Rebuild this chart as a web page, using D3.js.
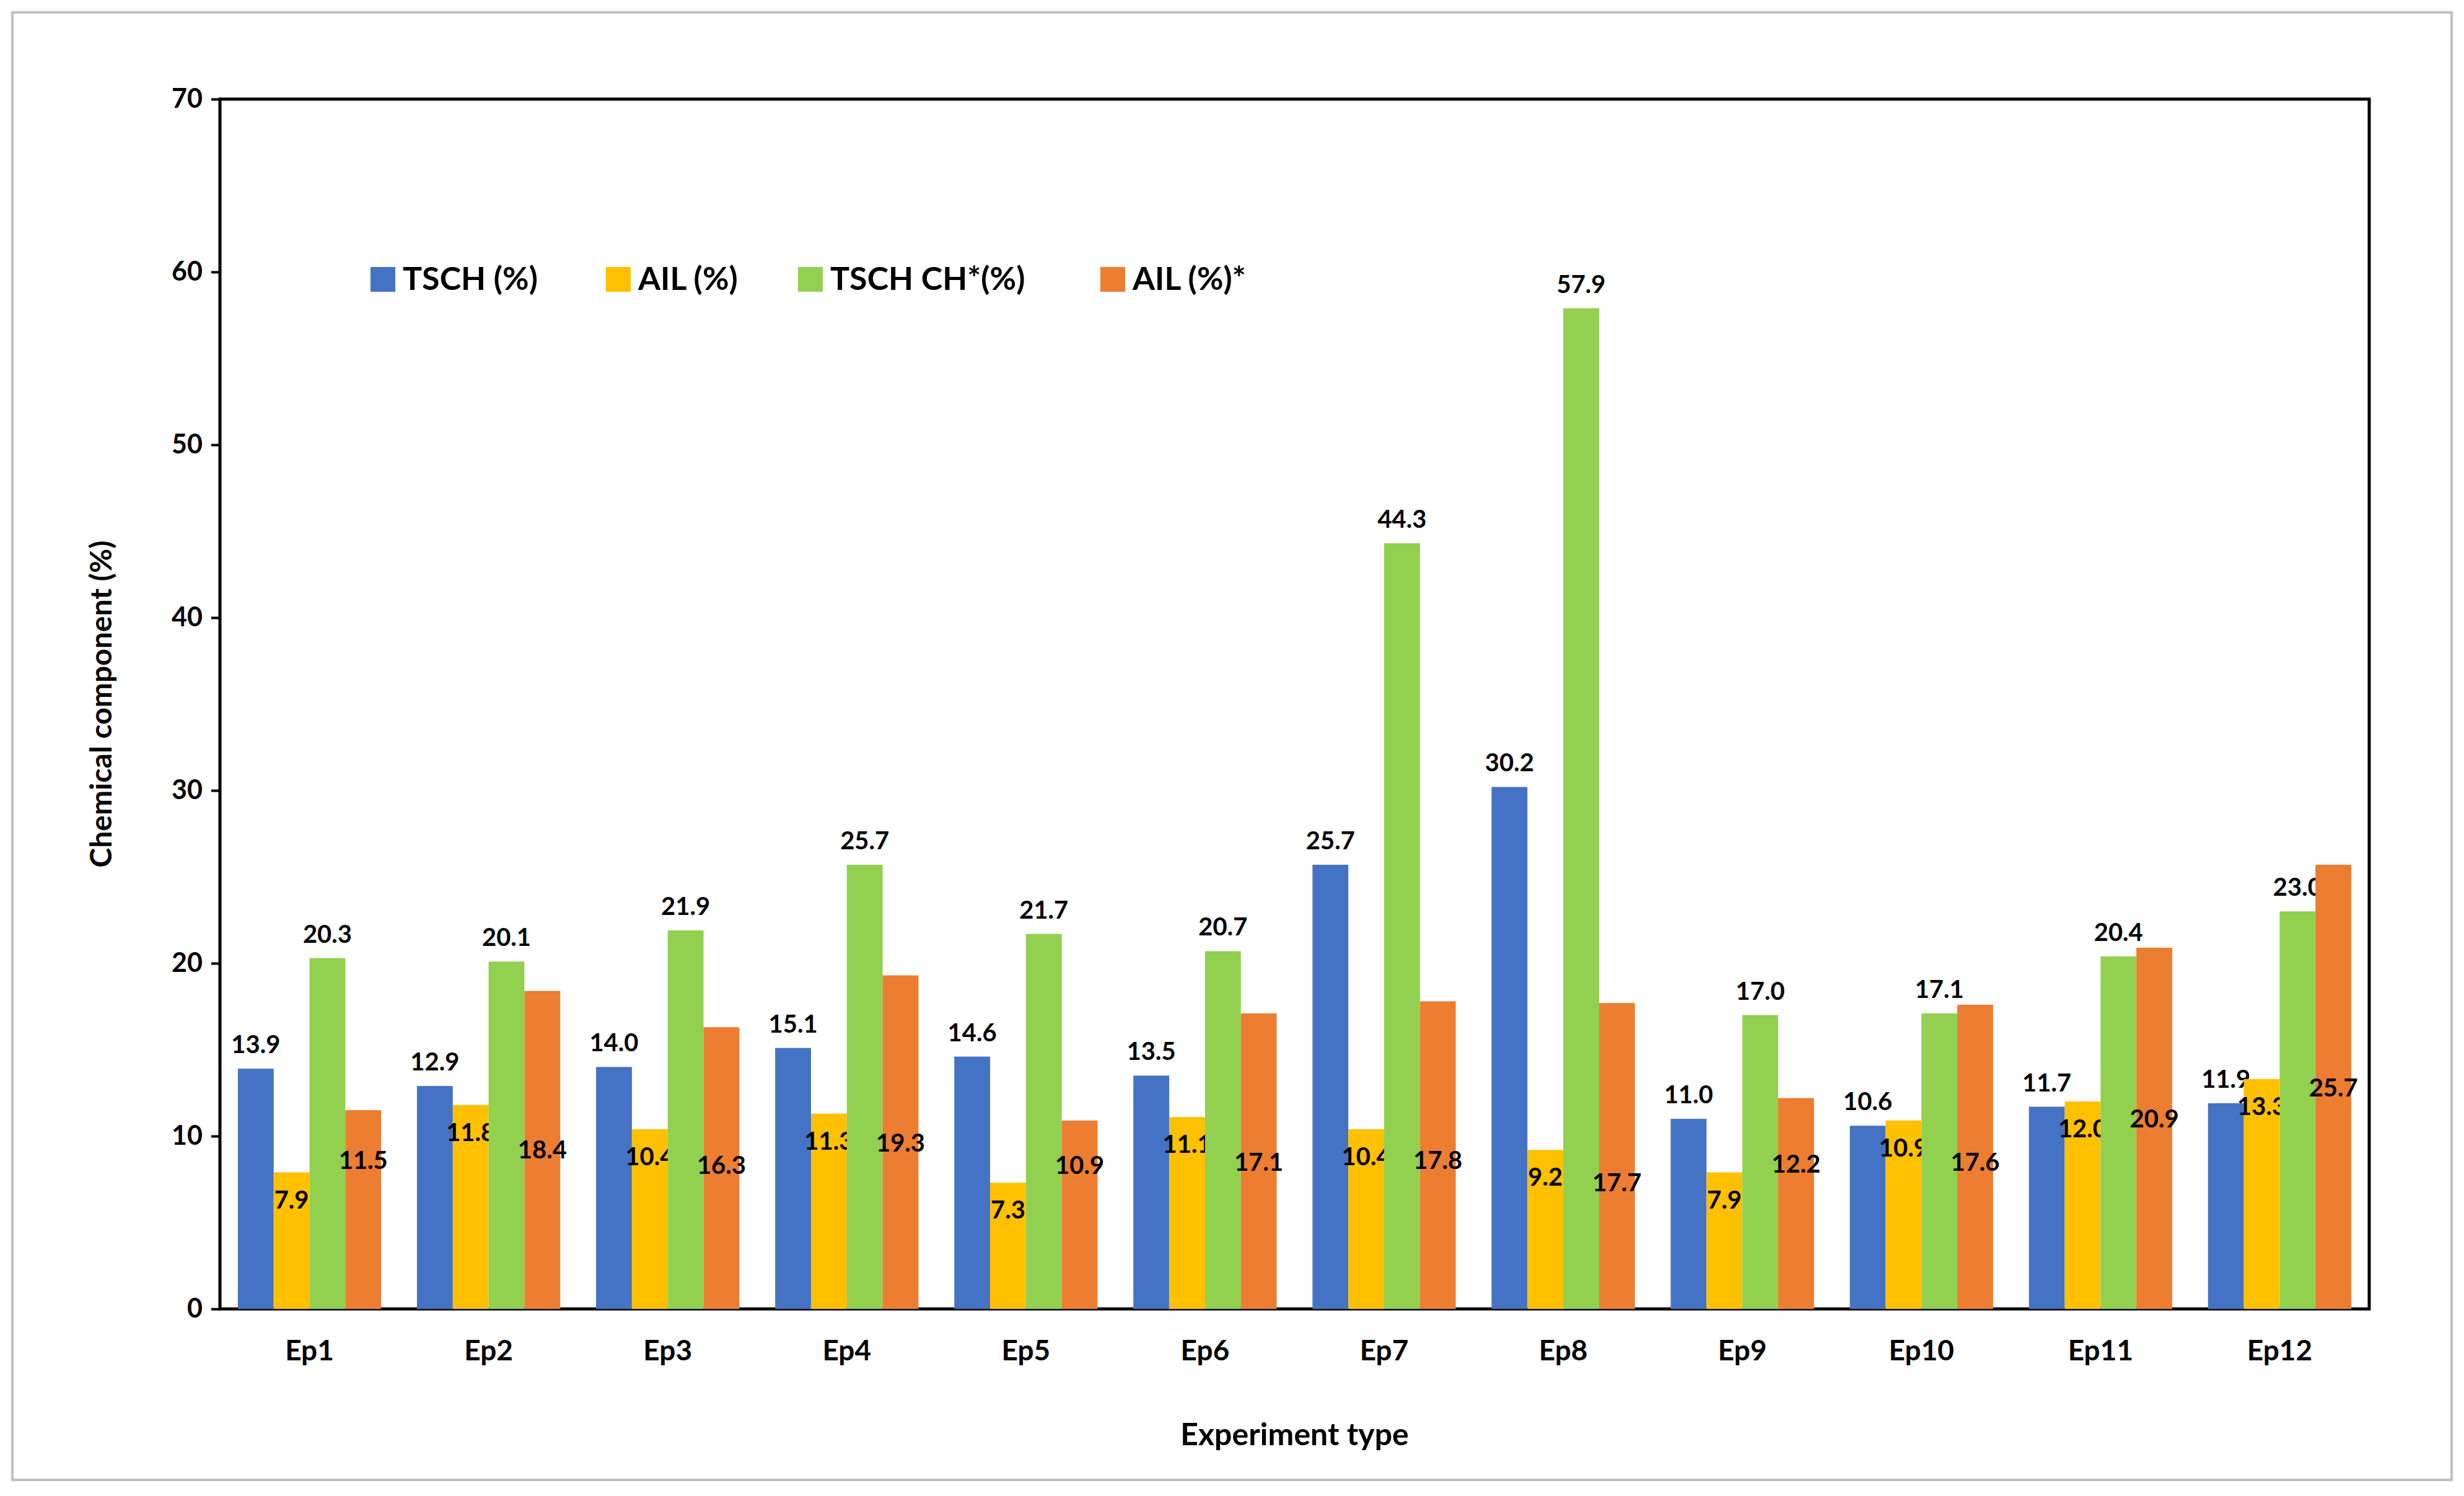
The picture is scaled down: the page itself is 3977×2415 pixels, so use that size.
<!DOCTYPE html>
<html><head><meta charset="utf-8">
<script src="https://cdn.jsdelivr.net/npm/d3@7"></script>
<style>body{margin:0;background:#fff}</style>
</head><body><div id="chart"></div>
<script>
const categories = ['Ep1','Ep2','Ep3','Ep4','Ep5','Ep6','Ep7','Ep8','Ep9','Ep10','Ep11','Ep12'];
const tsch = [13.9,12.9,14.0,15.1,14.6,13.5,25.7,30.2,11.0,10.6,11.7,11.9];
const ail = [7.9,11.8,10.4,11.3,7.3,11.1,10.4,9.2,7.9,10.9,12.0,13.3];
const tschCh = [20.3,20.1,21.9,25.7,21.7,20.7,44.3,57.9,17.0,17.1,20.4,23.0];
const ailStar = [11.5,18.4,16.3,19.3,10.9,17.1,17.8,17.7,12.2,17.6,20.9,25.7];
// where the AIL* labels sit (in data units)
const ailStarLabelAt = [8.6,9.2,8.3,9.6,8.3,8.5,8.6,7.3,8.4,8.5,11.0,12.8];
const seriesNames = ['TSCH (%)','AIL (%)','TSCH CH*(%)','AIL (%)*'];
const colors = ['#4472C4','#FFC000','#92D050','#ED7D31'];
const yTicks = [0,10,20,30,40,50,60,70];

const W = 3977, H = 2415;
const margin = {top:160, right:153, bottom:302, left:355};
const width = W - margin.left - margin.right;
const height = H - margin.top - margin.bottom;
const font = 'Lato, "Open Sans", sans-serif';

const root = d3.select('#chart').append('svg').attr('width', W).attr('height', H);
root.append('rect').attr('x',20).attr('y',20).attr('width',W-40).attr('height',H-46)
    .attr('fill','#fff').attr('stroke','#bfbfbf').attr('stroke-width',4);

const svg = root.append('g').attr('transform','translate('+margin.left+','+margin.top+')');

const x = d3.scaleBand().domain(categories).range([0,width]).paddingInner(0.2).paddingOuter(0.1);
const xi = d3.scaleBand().domain(d3.range(4)).range([0,x.bandwidth()]);
const y = d3.scaleLinear().domain([0,70]).range([height,0]);

svg.append('rect').attr('width',width).attr('height',height)
    .attr('fill','none').attr('stroke','#000').attr('stroke-width',5);

const yAxis = svg.append('g').call(d3.axisLeft(y).tickValues(yTicks).tickSize(14).tickPadding(14));
yAxis.select('.domain').remove();
yAxis.selectAll('line').attr('stroke','#000').attr('stroke-width',4);
yAxis.selectAll('text').attr('font-family',font).attr('font-weight','bold').attr('font-size',43).attr('fill','#000');

const xAxis = svg.append('g').attr('transform','translate(0,'+height+')')
    .call(d3.axisBottom(x).tickSize(0).tickPadding(50));
xAxis.select('.domain').remove();
xAxis.selectAll('text').attr('font-family',font).attr('font-weight','bold').attr('font-size',46).attr('fill','#000');

const series = [tsch, ail, tschCh, ailStar];
series.forEach((vals, s) => {
  const g = svg.append('g');
  g.selectAll('rect').data(vals).join('rect')
    .attr('x',(d,i)=>x(categories[i])+xi(s))
    .attr('y',d=>y(d))
    .attr('width',xi.bandwidth())
    .attr('height',d=>height-y(d))
    .attr('fill',colors[s]);
  g.selectAll('text').data(vals).join('text')
    .attr('x',(d,i)=>x(categories[i])+xi(s)+xi.bandwidth()/2)
    .attr('y',(d,i)=>{
      if (s===0 || s===2) return y(d)-25;
      if (s===1) return y(d)+58;
      return y(ailStarLabelAt[i])+14;
    })
    .attr('text-anchor','middle')
    .attr('font-family',font).attr('font-weight','bold').attr('font-size',40).attr('fill','#000')
    .text(d=>d.toFixed(1));
});

// legend
const legendX = [598, 978, 1288, 1776];
const lg = svg.append('g').attr('transform','translate(0,'+(451-margin.top)+')');
seriesNames.forEach((n,i)=>{
  lg.append('rect').attr('x',legendX[i]-margin.left).attr('y',-20).attr('width',40).attr('height',40).attr('fill',colors[i]);
  lg.append('text').attr('x',legendX[i]-margin.left+52).attr('y',17)
    .attr('font-family',font).attr('font-weight','bold').attr('font-size',52).attr('fill','#000').text(n);
});

// axis titles
root.append('text').attr('transform','translate(180,'+(margin.top+height/2)+') rotate(-90)')
  .attr('text-anchor','middle').attr('font-family',font).attr('font-weight','bold').attr('font-size',48).text('Chemical component (%)');
root.append('text').attr('x',margin.left+width/2).attr('y',2333)
  .attr('text-anchor','middle').attr('font-family',font).attr('font-weight','bold').attr('font-size',50).text('Experiment type');
</script></body></html>
